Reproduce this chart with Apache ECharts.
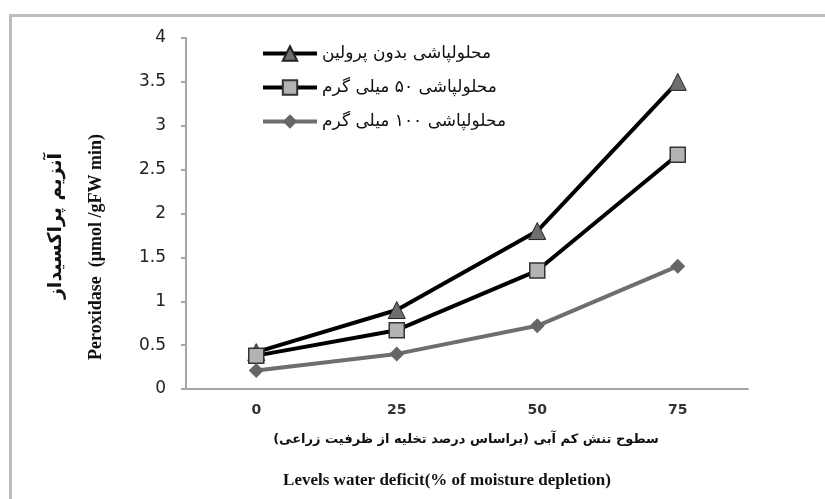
<!DOCTYPE html>
<html>
<head>
<meta charset="utf-8">
<script src="https://cdn.jsdelivr.net/npm/echarts@6/dist/echarts.min.js"></script>
<style>html,body{margin:0;padding:0;background:#fff}#c{width:825px;height:499px}</style>
</head>
<body>
<div id="c"></div>
<script>
const categories = ['0', '25', '50', '75'];
const seriesNames = ['محلولپاشی بدون پرولین', 'محلولپاشی ۵۰ میلی گرم', 'محلولپاشی ۱۰۰ میلی گرم'];
const noProline = [0.42, 0.90, 1.80, 3.50];
const proline50 = [0.38, 0.67, 1.35, 2.67];
const proline100 = [0.21, 0.40, 0.72, 1.40];
const yTicks = { min: 0, max: 4, interval: 0.5 };
const yTitleFa = 'آنزیم پراکسیداز';
const yTitleEn = 'Peroxidase  (μmol /gFW min)';
const xTitleFa = 'سطوح تنش کم آبی (براساس درصد تخلیه از ظرفیت زراعی)\u200F';
const xTitleEn = 'Levels water deficit(% of moisture depletion)';

const chart = echarts.init(document.getElementById('c'));
chart.setOption({
  backgroundColor: '#fff',
  animation: false,
  grid: { left: 186, right: 77, top: 38, bottom: 110, containLabel: false },
  legend: {
    orient: 'vertical', left: 256, top: 40,
    itemWidth: 54, itemHeight: 18, itemGap: 17,
    lineStyle: { width: 4 },
    textStyle: { fontFamily: 'DejaVu Sans', fontSize: 17, color: '#111' },
    data: seriesNames
  },
  xAxis: {
    type: 'category', data: categories, boundaryGap: true,
    axisLine: { lineStyle: { color: '#a6a6a6', width: 2 } },
    axisTick: { alignWithLabel: true, length: 5, lineStyle: { color: '#a6a6a6', width: 2 } },
    axisLabel: { margin: 14, fontFamily: 'DejaVu Sans', fontWeight: 'bold', fontSize: 14, color: '#333' }
  },
  yAxis: {
    type: 'value', min: yTicks.min, max: yTicks.max, interval: yTicks.interval,
    splitLine: { show: false },
    axisLine: { show: true, lineStyle: { color: '#a6a6a6', width: 2 } },
    axisTick: { show: true, length: 5, lineStyle: { color: '#a6a6a6', width: 2 } },
    axisLabel: { margin: 20, fontFamily: 'DejaVu Sans', fontSize: 17, color: '#222' }
  },
  series: [
    { name: seriesNames[0], type: 'line', data: noProline,
      symbol: 'triangle', symbolSize: 17,
      lineStyle: { color: '#000', width: 4 },
      itemStyle: { color: '#6e6e6e', borderColor: '#222', borderWidth: 1 } },
    { name: seriesNames[1], type: 'line', data: proline50,
      symbol: 'rect', symbolSize: 15,
      lineStyle: { color: '#000', width: 4 },
      itemStyle: { color: '#b3b3b3', borderColor: '#333', borderWidth: 1.5 } },
    { name: seriesNames[2], type: 'line', data: proline100,
      symbol: 'diamond', symbolSize: 15,
      lineStyle: { color: '#6e6e6e', width: 4 },
      itemStyle: { color: '#666', borderColor: '#666', borderWidth: 0 } }
  ],
  graphic: [
    { type: 'rect', left: 8, top: 13, shape: { width: 830, height: 500 },
      style: { fill: 'none', stroke: '#bdbdbd', lineWidth: 3 }, silent: true, z: -1 },
    { type: 'text', x: 56, y: 226, rotation: Math.PI / 2,
      style: { text: yTitleFa, fontFamily: 'DejaVu Sans', fontWeight: 'bold', fontSize: 19,
        fill: '#111', align: 'center', verticalAlign: 'middle' } },
    { type: 'text', x: 96, y: 247, rotation: Math.PI / 2,
      style: { text: yTitleEn, fontFamily: 'Liberation Serif', fontWeight: 'bold', fontSize: 18,
        fill: '#111', align: 'center', verticalAlign: 'middle' } },
    { type: 'text', x: 466, y: 440,
      style: { text: xTitleFa, fontFamily: 'DejaVu Sans', fontWeight: 'bold', fontSize: 13,
        fill: '#111', align: 'center', verticalAlign: 'middle' } },
    { type: 'text', x: 447, y: 481,
      style: { text: xTitleEn, fontFamily: 'Liberation Serif', fontWeight: 'bold', fontSize: 17,
        fill: '#111', align: 'center', verticalAlign: 'middle' } }
  ]
});
</script>
</body>
</html>
